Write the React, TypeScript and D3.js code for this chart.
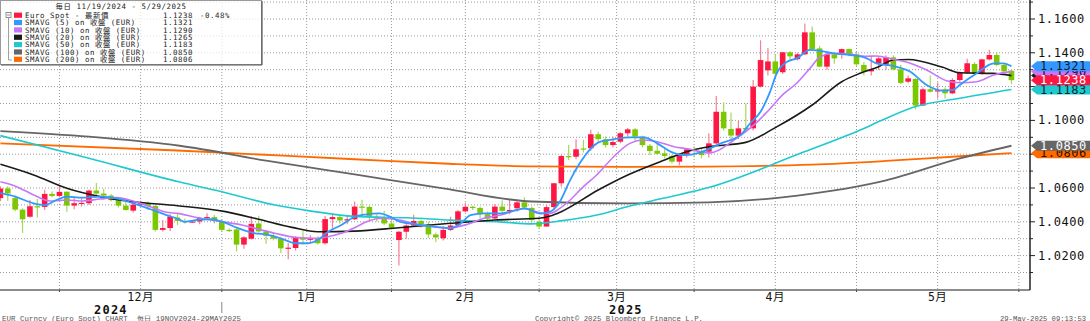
import React from "react";
import * as d3 from "d3";

const W = 1090;
const H = 321;

// OHLC per trading day: [open, high, low, close]
const nov2024 = [
  [1.0540, 1.0610, 1.0523, 1.0597],
  [1.0597, 1.0610, 1.0525, 1.0568],
  [1.0540, 1.0555, 1.0462, 1.0472],
  [1.0472, 1.0480, 1.0335, 1.0415],
  [1.0430, 1.0529, 1.0425, 1.0492],
  [1.0492, 1.0535, 1.0425, 1.0488],
  [1.0488, 1.0590, 1.0470, 1.0565],
  [1.0565, 1.0580, 1.0545, 1.0553],
  [1.0553, 1.0608, 1.0545, 1.0577],
];
const dec2024 = [
  [1.0578, 1.0580, 1.0460, 1.0496],
  [1.0496, 1.0545, 1.0475, 1.0510],
  [1.0510, 1.0545, 1.0490, 1.0512],
  [1.0510, 1.0590, 1.0500, 1.0585],
  [1.0585, 1.0630, 1.0555, 1.0567],
  [1.0567, 1.0595, 1.0530, 1.0555],
  [1.0555, 1.0565, 1.0520, 1.0528],
  [1.0528, 1.0540, 1.0485, 1.0496],
  [1.0496, 1.0530, 1.0465, 1.0470],
  [1.0466, 1.0520, 1.0455, 1.0501],
  [1.0501, 1.0525, 1.0490, 1.0512],
  [1.0512, 1.0520, 1.0470, 1.0493],
  [1.0493, 1.0500, 1.0343, 1.0352],
  [1.0352, 1.0410, 1.0343, 1.0363],
  [1.0363, 1.0445, 1.0345, 1.0430],
  [1.0425, 1.0445, 1.0380, 1.0405],
  [1.0405, 1.0420, 1.0390, 1.0400],
  [1.0400, 1.0410, 1.0395, 1.0402],
  [1.0402, 1.0430, 1.0385, 1.0422],
  [1.0422, 1.0450, 1.0410, 1.0428],
  [1.0428, 1.0440, 1.0390, 1.0407],
  [1.0402, 1.0415, 1.0340, 1.0352],
];
const jan2025 = [
  [1.0352, 1.0360, 1.0340, 1.0350],
  [1.0355, 1.0365, 1.0225, 1.0265],
  [1.0265, 1.0315, 1.0240, 1.0308],
  [1.0300, 1.0435, 1.0295, 1.0388],
  [1.0390, 1.0436, 1.0335, 1.0343],
  [1.0343, 1.0350, 1.0270, 1.0317],
  [1.0317, 1.0335, 1.0290, 1.0300],
  [1.0300, 1.0310, 1.0215, 1.0243],
  [1.0243, 1.0275, 1.0178, 1.0247],
  [1.0245, 1.0315, 1.0230, 1.0305],
  [1.0305, 1.0345, 1.0265, 1.0294],
  [1.0294, 1.0320, 1.0270, 1.0300],
  [1.0300, 1.0315, 1.0265, 1.0273],
  [1.0273, 1.0435, 1.0265, 1.0416],
  [1.0416, 1.0440, 1.0360, 1.0428],
  [1.0428, 1.0440, 1.0390, 1.0408],
  [1.0408, 1.0435, 1.0385, 1.0415],
  [1.0415, 1.0520, 1.0410, 1.0490],
  [1.0490, 1.0530, 1.0435, 1.0488],
  [1.0488, 1.0495, 1.0410, 1.0430],
  [1.0430, 1.0445, 1.0400, 1.0420],
  [1.0418, 1.0465, 1.0380, 1.0390],
  [1.0390, 1.0410, 1.0355, 1.0365],
];
const feb2025 = [
  [1.0292, 1.0345, 1.0141, 1.0341],
  [1.0341, 1.0385, 1.0300, 1.0378],
  [1.0378, 1.0442, 1.0370, 1.0405],
  [1.0405, 1.0410, 1.0365, 1.0385],
  [1.0385, 1.0400, 1.0305, 1.0325],
  [1.0325, 1.0335, 1.0280, 1.0307],
  [1.0303, 1.0375, 1.0290, 1.0352],
  [1.0352, 1.0430, 1.0345, 1.0378],
  [1.0380, 1.0470, 1.0375, 1.0462],
  [1.0462, 1.0512, 1.0455, 1.0489],
  [1.0489, 1.0495, 1.0470, 1.0482],
  [1.0482, 1.0490, 1.0420, 1.0445],
  [1.0445, 1.0460, 1.0400, 1.0418],
  [1.0420, 1.0505, 1.0415, 1.0490],
  [1.0490, 1.0528, 1.0455, 1.0465],
  [1.0465, 1.0530, 1.0445, 1.0470],
  [1.0480, 1.0525, 1.0460, 1.0515],
  [1.0515, 1.0545, 1.0470, 1.0485],
  [1.0482, 1.0490, 1.0395, 1.0411],
  [1.0400, 1.0410, 1.0360, 1.0372],
];
const mar2025 = [
  [1.0372, 1.0500, 1.0370, 1.0487],
  [1.0487, 1.0630, 1.0470, 1.0628],
  [1.0628, 1.0795, 1.0608, 1.0789],
  [1.0789, 1.0855, 1.0765, 1.0783],
  [1.0785, 1.0888, 1.0770, 1.0829],
  [1.0834, 1.0885, 1.0810, 1.0832],
  [1.0835, 1.0945, 1.0820, 1.0918],
  [1.0918, 1.0935, 1.0865, 1.0889],
  [1.0888, 1.0905, 1.0840, 1.0854],
  [1.0854, 1.0905, 1.0840, 1.0872],
  [1.0874, 1.0930, 1.0865, 1.0924],
  [1.0924, 1.0955, 1.0905, 1.0947],
  [1.0947, 1.0955, 1.0880, 1.0904],
  [1.0904, 1.0910, 1.0840, 1.0854],
  [1.0850, 1.0860, 1.0795, 1.0819],
  [1.0820, 1.0860, 1.0795, 1.0803],
  [1.0805, 1.0830, 1.0775, 1.0790],
  [1.0790, 1.0800, 1.0745, 1.0756],
  [1.0756, 1.0805, 1.0735, 1.0796],
  [1.0795, 1.0835, 1.0780, 1.0829],
  [1.0829, 1.0845, 1.0780, 1.0818],
];
const apr2025 = [
  [1.0820, 1.0835, 1.0775, 1.0795],
  [1.0815, 1.0924, 1.0780, 1.0864],
  [1.0864, 1.1145, 1.0855, 1.1051],
  [1.1051, 1.1107, 1.0940, 1.0953],
  [1.0949, 1.1047, 1.0880, 1.0910],
  [1.0910, 1.1000, 1.0890, 1.0953],
  [1.0955, 1.1100, 1.0930, 1.0948],
  [1.0953, 1.1239, 1.0940, 1.1200],
  [1.1200, 1.1474, 1.1195, 1.1357],
  [1.1296, 1.1428, 1.1265, 1.1349],
  [1.1349, 1.1390, 1.1265, 1.1276],
  [1.1285, 1.1405, 1.1275, 1.1403],
  [1.1403, 1.1410, 1.1355, 1.1379],
  [1.1362, 1.1400, 1.1355, 1.1391],
  [1.1391, 1.1574, 1.1385, 1.1521],
  [1.1521, 1.1555, 1.1410, 1.1422],
  [1.1426, 1.1440, 1.1315, 1.1318],
  [1.1318, 1.1400, 1.1300, 1.1391],
  [1.1391, 1.1395, 1.1335, 1.1367],
  [1.1391, 1.1425, 1.1365, 1.1422],
  [1.1422, 1.1425, 1.1380, 1.1391],
  [1.1391, 1.1405, 1.1320, 1.1332],
];
const may2025 = [
  [1.1328, 1.1345, 1.1265, 1.1288],
  [1.1290, 1.1380, 1.1265, 1.1300],
  [1.1338, 1.1380, 1.1300, 1.1367],
  [1.1328, 1.1385, 1.1300, 1.1373],
  [1.1373, 1.1385, 1.1295, 1.1302],
  [1.1302, 1.1330, 1.1215, 1.1222],
  [1.1229, 1.1265, 1.1220, 1.1249],
  [1.1245, 1.1250, 1.1065, 1.1088],
  [1.1088, 1.1195, 1.1085, 1.1184],
  [1.1184, 1.1265, 1.1165, 1.1170],
  [1.1172, 1.1225, 1.1130, 1.1178],
  [1.1184, 1.1195, 1.1130, 1.1160],
  [1.1160, 1.1250, 1.1155, 1.1239],
  [1.1239, 1.1290, 1.1225, 1.1282],
  [1.1282, 1.1365, 1.1275, 1.1338],
  [1.1334, 1.1345, 1.1265, 1.1279],
  [1.1279, 1.1365, 1.1270, 1.1361],
  [1.1361, 1.1418, 1.1355, 1.1387],
  [1.1387, 1.1405, 1.1320, 1.1328],
  [1.1328, 1.1335, 1.1280, 1.1290],
  [1.1294, 1.1300, 1.1215, 1.1238],
];

// moving averages: [trading-day index, value]
const sma5 = [
  [0, 1.0569], [2, 1.0549], [4.5, 1.0509], [6, 1.0499], [7.6, 1.0529], [9, 1.0549],
  [11, 1.0543], [13.5, 1.0549], [16, 1.0535], [18, 1.0509], [20, 1.048], [22.5, 1.044],
  [24, 1.0418], [25, 1.04], [27, 1.0413], [28.6, 1.0415], [30, 1.0401], [32.2, 1.0362],
  [34.5, 1.0332], [36, 1.0326], [37.2, 1.0312], [38.6, 1.0292], [40, 1.0273], [41.7, 1.0273],
  [43, 1.0292], [44.4, 1.0341], [46.2, 1.0381], [48, 1.043], [49.6, 1.0444], [51.4, 1.045],
  [52.8, 1.043], [54.1, 1.0401], [56.4, 1.0385], [58.7, 1.0371], [61, 1.0362], [62.4, 1.0391],
  [63.7, 1.044], [65.5, 1.045], [67.8, 1.045], [70, 1.047], [71, 1.048], [73.2, 1.0448],
  [74.5, 1.046], [75.8, 1.0519], [77.2, 1.0647], [78.5, 1.0746], [79.9, 1.0829], [81.3, 1.0874],
  [83.1, 1.0888], [85.3, 1.09], [87.2, 1.09], [89, 1.0864], [90.8, 1.0815], [92.6, 1.0795],
  [94.8, 1.081], [97.6, 1.0864], [100.3, 1.0914], [101.6, 1.0983], [103, 1.1051], [104.3, 1.117],
  [105.2, 1.1279], [106.6, 1.1347], [107.9, 1.1367], [109.7, 1.1417], [111.1, 1.1411],
  [112.9, 1.1397], [115.2, 1.1387], [117.4, 1.1367], [118.7, 1.1338], [121, 1.1322],
  [123.3, 1.1288], [125.5, 1.121], [127.8, 1.1176], [129.1, 1.118], [130, 1.121],
  [132.3, 1.1279], [134.6, 1.1338], [135.9, 1.1338], [137, 1.1321],
];
const sma10 = [
  [0, 1.0637], [2.2, 1.0608], [4.5, 1.0559], [6.7, 1.0523], [9, 1.0529], [11.2, 1.0523],
  [13.5, 1.0535], [15.8, 1.0543], [18, 1.0523], [20.3, 1.0489], [22.5, 1.0456], [24, 1.045],
  [26.4, 1.0427], [30, 1.0401], [32.7, 1.0381], [35.4, 1.0351], [37.2, 1.0332], [39.9, 1.0308],
  [42.6, 1.0302], [44.4, 1.0312], [46.2, 1.0332], [48, 1.0365], [49.6, 1.04], [51.8, 1.0421],
  [54.1, 1.0411], [56.4, 1.0385], [58.7, 1.0371], [61, 1.0365], [63.3, 1.0385], [65.5, 1.0421],
  [67.8, 1.044], [71, 1.0479], [73.3, 1.0452], [74.5, 1.045], [75.8, 1.0479], [77.2, 1.0529],
  [79, 1.0608], [80.8, 1.0677], [83.1, 1.0785], [85.3, 1.0864], [87.2, 1.0884], [89, 1.0874],
  [91.3, 1.0844], [93.5, 1.0829], [94.8, 1.0815], [96.2, 1.0808], [99.4, 1.0884], [102.1, 1.0973],
  [103.9, 1.1051], [106.2, 1.116], [107.9, 1.122], [109.7, 1.1308], [111.1, 1.1377],
  [112.9, 1.1397], [115.2, 1.1391], [117.4, 1.138], [118.7, 1.1381], [121, 1.1361],
  [123.3, 1.1338], [125.5, 1.1298], [128.2, 1.1235], [130, 1.1223], [132.3, 1.1229],
  [134.6, 1.1269], [137, 1.129],
];
const sma20 = [
  [0, 1.074], [4.5, 1.0677], [9, 1.0598], [13.5, 1.0549], [18, 1.0519], [24, 1.0495],
  [30.5, 1.046], [35, 1.0415], [39.5, 1.0367], [43, 1.0341], [48, 1.0345], [54, 1.0365],
  [61, 1.0391], [67, 1.0411], [73, 1.0421], [74.5, 1.0434], [76, 1.046], [81, 1.0588],
  [85, 1.0677], [90, 1.0766], [93, 1.0815], [96, 1.0844], [101, 1.087], [105, 1.0957],
  [110, 1.1091], [114, 1.1229], [116.5, 1.1279], [119, 1.1318], [121, 1.1357], [123, 1.136],
  [127.7, 1.1314], [130, 1.1282], [134.5, 1.1278], [137, 1.1265],
];
const sma50 = [
  [0, 1.091], [12, 1.0776], [24.3, 1.0635], [30, 1.0578], [37.2, 1.0499], [41.7, 1.0466],
  [48, 1.0432], [55, 1.0424], [61, 1.041], [68, 1.0398], [72, 1.0388], [76.2, 1.0407],
  [80.8, 1.044], [85.3, 1.0493], [89.8, 1.0539], [96.1, 1.0604], [108.4, 1.0805],
  [116.5, 1.0943], [119.2, 1.0996], [123.7, 1.1078], [130, 1.1131], [137, 1.1183],
];
const sma100 = [
  [0, 1.0937], [12, 1.0904], [24.3, 1.085], [36, 1.0762], [48, 1.068], [60, 1.0598],
  [72, 1.052], [85, 1.0509], [96, 1.0515], [108, 1.0555], [120, 1.0645], [130, 1.0775],
  [137, 1.085],
];
const sma200 = [
  [0, 1.0864], [24, 1.0822], [48, 1.077], [60, 1.0745], [72, 1.0728], [85, 1.0725],
  [96, 1.0727], [110, 1.0738], [120, 1.076], [130, 1.0788], [137, 1.0806],
];

const monthLabels = ["12月", "1月", "2月", "3月", "4月", "5月"];
const monthEndIndex = [8, 30, 53, 73, 94, 116, 138];
const yearLabels = ["2024", "2025"];
const yTickLabels = ["1.0200", "1.0400", "1.0600", "1.0800", "1.1000", "1.1200", "1.1400", "1.1600"];
const yGridValues = [1.01, 1.02, 1.03, 1.04, 1.05, 1.06, 1.07, 1.08, 1.09, 1.1, 1.11, 1.12, 1.13, 1.14, 1.15, 1.16, 1.17];

const legendTitle = "毎日 11/19/2024 - 5/29/2025";
const seriesNames = [
  "Euro Spot - 最新價",
  "SMAVG (5) on 收盤 (EUR)",
  "SMAVG (10) on 收盤 (EUR)",
  "SMAVG (20) on 收盤 (EUR)",
  "SMAVG (50) on 收盤 (EUR)",
  "SMAVG (100) on 收盤 (EUR)",
  "SMAVG (200) on 收盤 (EUR)",
];
const seriesLast = ["1.1238", "1.1321", "1.1290", "1.1265", "1.1183", "1.0850", "1.0806"];
const spotChange = "-0.48%";
const seriesColors = ["#ff1744", "#3399ff", "#c777f5", "#1a1a1a", "#1fc9cf", "#666666", "#ff6a00"];
const tagTextColors = ["#ffffff", "#0b1e3a", "#1a0a26", "#ffffff", "#06302f", "#ffffff", "#2a1200"];
// draw order of right-hand value tags (back to front)
const tagOrder = [6, 4, 3, 2, 5, 0, 1];

const UP = "#ff1744";
const DOWN = "#7cc800";
const UP_WICK = "#f57f95";
const DOWN_WICK = "#a6d65a";

export default function App() {
  const bars = [...nov2024, ...dec2024, ...jan2025, ...feb2025, ...mar2025, ...apr2025, ...may2025];
  const step = 7.38;
  const x = d3.scaleLinear().domain([0, 138]).range([0.4, 0.4 + 138 * step]);
  const y = d3.scaleLinear().domain([1.0, 1.16]).range([289.4, 19]);
  const axisX = 1030;
  const axisY = 290;
  const bodyW = 5.6;

  const line = d3
    .line<number[]>()
    .x((d) => x(d[0]))
    .y((d) => y(d[1]))
    .curve(d3.curveMonotoneX);

  const maSeries = [
    { data: sma200, color: seriesColors[6], w: 1.8 },
    { data: sma100, color: seriesColors[5], w: 1.8 },
    { data: sma50, color: seriesColors[4], w: 1.6 },
    { data: sma20, color: seriesColors[3], w: 1.6 },
    { data: sma10, color: seriesColors[2], w: 1.6 },
    { data: sma5, color: seriesColors[1], w: 1.8 },
  ];

  const monthMid = monthLabels.map((_, k) => (x(monthEndIndex[k]) + x(monthEndIndex[k + 1])) / 2);
  const yearSep = x(monthEndIndex[1]);
  const yearMid = [yearSep / 2, (yearSep + axisX) / 2];

  const mono = "'DejaVu Sans Mono', 'Noto Sans CJK TC', monospace";
  const lgFont = 7.4;
  const lgSpace = 0.55;
  const tagValues = seriesLast.map((s) => parseFloat(s));

  return (
    <div style={{ position: "fixed", left: 0, top: 0, width: W, height: H, background: "#fff" }}>
      <svg width={W} height={H} style={{ display: "block" }}>
        <rect x={0} y={0} width={W} height={H} fill="#ffffff" />
        {/* horizontal grid */}
        {yGridValues.map((v) => (
          <line key={"hg" + v} x1={0} x2={axisX} y1={y(v)} y2={y(v)} stroke="#9a9a9a" strokeWidth={1} strokeDasharray="1,2" />
        ))}
        {/* vertical grid: month ends and mid-month */}
        {monthEndIndex.map((i) => (
          <line key={"vg" + i} x1={x(i)} x2={x(i)} y1={0} y2={axisY} stroke="#9a9a9a" strokeWidth={1} strokeDasharray="1,2" />
        ))}
        {monthMid.map((m, k) => (
          <line key={"vm" + k} x1={m} x2={m} y1={0} y2={axisY} stroke="#9a9a9a" strokeWidth={1} strokeDasharray="1,2" />
        ))}

        {/* candles */}
        <g>
          {bars.map((b, i) => {
            const [o, h, l, c] = b;
            const up = c >= o;
            const cx = x(i);
            const top = y(Math.max(o, c));
            const bot = y(Math.min(o, c));
            return (
              <g key={"c" + i}>
                <line x1={cx} x2={cx} y1={y(h)} y2={y(l)} stroke={up ? UP_WICK : DOWN_WICK} strokeWidth={1.2} />
                <rect x={cx - bodyW / 2} y={top} width={bodyW} height={Math.max(1.2, bot - top)} fill={up ? UP : DOWN} />
              </g>
            );
          })}
        </g>

        {/* moving averages */}
        {maSeries.map((s, k) => (
          <path key={"ma" + k} d={line(s.data) || ""} fill="none" stroke={s.color} strokeWidth={s.w} strokeLinejoin="round" />
        ))}

        {/* bottom axis */}
        <line x1={0} x2={axisX} y1={axisY} y2={axisY} stroke="#8c8c8c" strokeWidth={2} />
        {monthEndIndex.map((i) => (
          <line key={"bt" + i} x1={x(i)} x2={x(i)} y1={axisY} y2={axisY + 2} stroke="#444" strokeWidth={1} />
        ))}
        {monthLabels.map((m, k) => (
          <text key={"ml" + k} x={monthMid[k]} y={301} textAnchor="middle" fontFamily={mono} fontSize={11.5} fill="#111" letterSpacing={0.5}>
            {m}
          </text>
        ))}
        <line x1={yearSep} x2={yearSep} y1={302} y2={313} stroke="#888" strokeWidth={1} />
        {yearLabels.map((t, k) => (
          <text key={"yl" + k} x={yearMid[k]} y={314} textAnchor="middle" fontFamily={mono} fontSize={12} fontWeight="bold" fill="#111" letterSpacing={1.2}>
            {t}
          </text>
        ))}

        {/* right axis */}
        <line x1={axisX} x2={axisX} y1={0} y2={axisY} stroke="#222" strokeWidth={1.5} />
        {yGridValues.map((v) => (
          <line key={"rt" + v} x1={axisX} x2={axisX + (Math.round(v * 100) % 2 === 0 ? 5 : 3)} y1={y(v)} y2={y(v)} stroke="#222" strokeWidth={1} />
        ))}
        {yTickLabels.map((t) => (
          <text key={"yt" + t} x={1038} y={y(parseFloat(t)) + 4} fontFamily={mono} fontSize={12} fill="#111" letterSpacing={0.6}>
            {t}
          </text>
        ))}

        {/* value tags */}
        {tagOrder.map((k) => {
          const cy = y(tagValues[k]);
          const pts = [
            [axisX + 1, cy],
            [axisX + 7, cy - 5],
            [W, cy - 5],
            [W, cy + 5],
            [axisX + 7, cy + 5],
          ];
          return (
            <g key={"tag" + k}>
              <polygon points={pts.map((p) => p.join(",")).join(" ")} fill={seriesColors[k]} />
              <text x={1040} y={cy + 4.3} fontFamily={mono} fontSize={12} fill={tagTextColors[k]} letterSpacing={0.6}>
                {seriesLast[k]}
              </text>
            </g>
          );
        })}

        {/* legend */}
        <g>
          <rect x={0.5} y={0.5} width={261} height={64} fill="#ffffff" fillOpacity={0.72} stroke="#9a9a9a" strokeWidth={1} />
          <line x1={1} x2={262} y1={65} y2={65} stroke="#555" strokeWidth={1.2} />
          <line x1={262} x2={262} y1={1} y2={65} stroke="#555" strokeWidth={1.2} />
          <text x={121} y={9} textAnchor="middle" fontFamily={mono} fontSize={lgFont} fill="#222" letterSpacing={lgSpace}>
            {legendTitle}
          </text>
          <rect x={6} y={12.5} width={5} height={5} fill="none" stroke="#777" strokeWidth={0.8} />
          <line x1={7} x2={10} y1={15} y2={15} stroke="#777" strokeWidth={0.8} />
          <line x1={8.5} x2={8.5} y1={17.5} y2={60} stroke="#888" strokeWidth={0.8} />
          <line x1={8.5} x2={12} y1={60} y2={60} stroke="#888" strokeWidth={0.8} />
          {seriesNames.map((name, k) => {
            const cy = 15.2 + k * 7.35;
            return (
              <g key={"lg" + k}>
                <rect x={14} y={cy - 2.6} width={8} height={5.2} fill={seriesColors[k]} />
                <text x={25} y={cy + 2.6} fontFamily={mono} fontSize={lgFont} fill="#222" letterSpacing={lgSpace}>
                  {name}
                </text>
                <text x={193} y={cy + 2.6} textAnchor="end" fontFamily={mono} fontSize={lgFont} fill="#222" letterSpacing={lgSpace}>
                  {seriesLast[k]}
                </text>
                {k === 0 && (
                  <text x={200} y={cy + 2.6} fontFamily={mono} fontSize={lgFont} fill="#222" letterSpacing={lgSpace}>
                    {spotChange}
                  </text>
                )}
              </g>
            );
          })}
        </g>

        {/* footer */}
        <text x={2} y={320.5} fontFamily="'Liberation Mono', monospace" fontSize={7.2} fill="#555" textLength={239} lengthAdjust="spacingAndGlyphs" style={{ whiteSpace: "pre" }}>
          EUR Curncy (Euro Spot) CHART  每日 19NOV2024-29MAY2025
        </text>
        <text x={535} y={320.5} fontFamily="'Liberation Mono', monospace" fontSize={7.2} fill="#555" textLength={168} lengthAdjust="spacingAndGlyphs">
          Copyright© 2025 Bloomberg Finance L.P.
        </text>
        <text x={1000} y={320.5} fontFamily="'Liberation Mono', monospace" fontSize={7.2} fill="#555" textLength={86} lengthAdjust="spacingAndGlyphs">
          29-May-2025 09:13:53
        </text>
      </svg>
    </div>
  );
}
